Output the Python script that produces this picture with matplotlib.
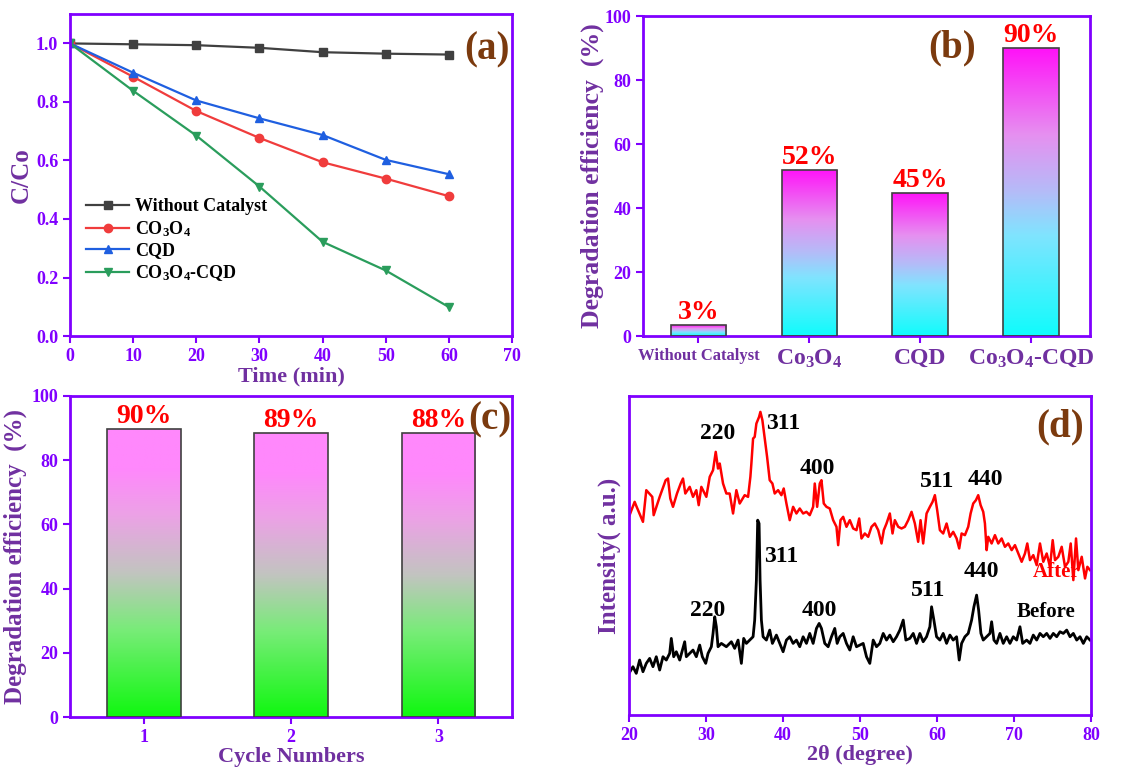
import numpy as np
import matplotlib
matplotlib.use('Agg')
import matplotlib.pyplot as plt
from matplotlib.colors import LinearSegmentedColormap

plt.rcParams['font.family'] = ['Liberation Serif', 'DejaVu Serif']
plt.rcParams['font.weight'] = 'bold'
plt.rcParams['axes.labelweight'] = 'bold'
plt.rcParams['mathtext.fontset'] = 'custom'
plt.rcParams['mathtext.rm'] = 'Liberation Serif:bold'
plt.rcParams['mathtext.it'] = 'Liberation Serif:bold'
plt.rcParams['mathtext.bf'] = 'Liberation Serif:bold'
plt.rcParams['mathtext.default'] = 'rm'

VIOLET = '#8000ff'
PURPLE = '#7030a0'
BROWN = '#7b3a0e'

# ---------------- data (a) ----------------
time_min = [0, 10, 20, 30, 40, 50, 60]
cc_without = [1.0, 0.997, 0.994, 0.985, 0.970, 0.965, 0.962]
cc_co3o4 = [1.0, 0.886, 0.769, 0.677, 0.594, 0.538, 0.478]
cc_cqd = [1.0, 0.900, 0.805, 0.744, 0.687, 0.602, 0.553]
cc_comp = [1.0, 0.838, 0.685, 0.511, 0.322, 0.224, 0.099]
series_labels = ['Without Catalyst', r'CO$_3$O$_4$', 'CQD', r'CO$_3$O$_4$-CQD']

# ---------------- data (b) ----------------
cat_names = ['Without Catalyst', r'Co$_3$O$_4$', 'CQD', r'Co$_3$O$_4$-CQD']
cat_eff = [3.4, 51.9, 44.8, 89.9]
cat_eff_labels = ['3%', '52%', '45%', '90%']

# ---------------- data (c) ----------------
cycles = [1, 2, 3]
cycle_eff = [89.7, 88.6, 88.4]
cycle_labels = ['90%', '89%', '88%']

# ---------------- data (d) ----------------
after_2theta = [
    20.00, 20.74, 21.00, 21.82, 22.25, 23.03, 23.21, 23.99, 24.77, 25.07,
    25.37, 25.72, 26.24, 26.72, 27.02, 27.32, 27.89, 28.32, 28.75, 29.06,
    29.40, 30.05, 30.49, 30.92, 31.27, 31.57, 31.79, 32.22, 32.65, 33.08,
    33.52, 33.95, 34.38, 35.03, 35.47, 35.77, 35.90, 36.12, 36.33, 36.55,
    36.90, 37.07, 37.33, 37.63, 37.94, 38.28, 38.63, 38.93, 39.37, 39.80,
    40.10, 40.45, 40.88, 41.32, 41.75, 42.18, 42.62, 43.05, 43.48, 43.92,
    44.13, 44.44, 44.78, 45.00, 45.30, 45.65, 46.08, 46.52, 46.95, 47.17,
    47.47, 47.82, 48.25, 48.68, 49.12, 49.55, 49.90, 50.20, 50.63, 51.07,
    51.50, 51.93, 52.37, 52.80, 53.10, 53.45, 53.88, 54.23, 54.53, 54.97,
    55.40, 55.83, 56.27, 56.70, 57.13, 57.56, 57.87, 58.21, 58.65, 59.08,
    59.43, 59.73, 60.03, 60.38, 60.81, 61.25, 61.68, 62.11, 62.55, 62.89,
    63.20, 63.63, 64.06, 64.37, 64.71, 65.06, 65.36, 65.67, 66.01, 66.23,
    66.45, 66.66, 67.10, 67.53, 67.96, 68.40, 68.83, 69.26, 69.70, 70.13,
    70.56, 71.00, 71.43, 71.73, 72.08, 72.51, 72.95, 73.38, 73.81, 74.25,
    74.68, 75.03, 75.33, 75.76, 76.20, 76.63, 77.06, 77.37, 77.71, 78.06,
    78.36, 78.80, 79.23, 79.53, 79.88]
after_int = [
    595, 640, 625, 580, 675, 655, 600, 655, 705, 710,
    650, 625, 665, 695, 710, 665, 685, 655, 675, 630,
    685, 655, 715, 735, 790, 740, 755, 695, 665, 665,
    605, 675, 635, 660, 655, 715, 755, 830, 835, 875,
    895, 910, 885, 830, 775, 705, 695, 665, 675, 660,
    680, 635, 585, 625, 605, 620, 605, 610, 600, 625,
    695, 625, 695, 705, 635, 625, 620, 585, 565, 510,
    585, 595, 565, 585, 560, 555, 590, 530, 545, 535,
    565, 575, 555, 515, 555, 575, 605, 545, 585, 565,
    560, 565, 585, 610, 575, 520, 585, 515, 605, 625,
    640, 660, 615, 555, 545, 575, 535, 550, 530, 500,
    545, 540, 565, 605, 635, 645, 660, 630, 610, 575,
    495, 535, 515, 540, 515, 530, 505, 515, 495, 510,
    485, 460, 485, 515, 465, 480, 450, 515, 460, 485,
    445, 525, 465, 475, 505, 445, 460, 515, 405, 530,
    435, 475, 410, 445, 435]

before_2theta = [
    20.00, 20.52, 20.95, 21.39, 21.82, 22.25, 22.69, 23.12, 23.55, 23.99,
    24.42, 24.85, 25.29, 25.50, 25.81, 26.15, 26.59, 27.24, 27.45, 27.89,
    28.32, 28.75, 29.19, 29.53, 29.97, 30.27, 30.70, 30.92, 31.14, 31.35,
    31.57, 32.00, 32.65, 33.30, 33.73, 34.17, 34.60, 34.90, 35.25, 35.68,
    36.12, 36.33, 36.55, 36.72, 36.90, 37.03, 37.20, 37.42, 37.85, 38.28,
    38.63, 39.15, 39.58, 40.02, 40.45, 40.88, 41.32, 41.75, 42.18, 42.62,
    43.05, 43.48, 43.92, 44.35, 44.70, 45.00, 45.43, 45.87, 46.30, 46.73,
    47.04, 47.38, 47.82, 48.25, 48.68, 49.12, 49.55, 49.98, 50.42, 50.85,
    51.28, 51.72, 52.15, 52.58, 53.02, 53.45, 53.88, 54.32, 54.75, 55.18,
    55.62, 55.96, 56.48, 56.92, 57.35, 57.78, 58.21, 58.65, 59.08, 59.30,
    59.60, 59.95, 60.38, 60.81, 61.25, 61.68, 62.11, 62.55, 62.89, 63.20,
    63.63, 64.06, 64.50, 64.80, 65.15, 65.41, 65.71, 66.01, 66.45, 66.88,
    67.10, 67.40, 67.75, 68.18, 68.61, 69.05, 69.48, 69.91, 70.35, 70.78,
    71.13, 71.65, 72.08, 72.51, 72.95, 73.38, 73.81, 74.25, 74.68, 75.11,
    75.55, 75.98, 76.41, 76.85, 77.28, 77.71, 78.15, 78.58, 79.01, 79.45,
    79.88]
before_int = [
    125, 145, 125, 165, 130, 155, 170, 145, 175, 135,
    175, 165, 185, 230, 175, 190, 165, 220, 175, 185,
    195, 175, 210, 175, 155, 185, 205, 245, 295, 265,
    205, 215, 205, 220, 200, 225, 155, 230, 215, 225,
    235, 285, 405, 585, 575, 405, 285, 235, 225, 255,
    215, 240, 215, 190, 225, 235, 215, 225, 205, 235,
    215, 245, 215, 260, 275, 260, 215, 205, 235, 260,
    215, 235, 245, 215, 195, 235, 205, 210, 215, 175,
    155, 225, 205, 215, 245, 225, 240, 220, 235, 255,
    285, 225, 230, 245, 215, 245, 220, 235, 265, 325,
    285, 235, 225, 245, 215, 240, 225, 235, 165, 215,
    235, 245, 285, 325, 360, 315, 245, 225, 235, 245,
    280, 225, 215, 245, 215, 235, 215, 235, 225, 265,
    215, 225, 215, 240, 225, 245, 235, 245, 230, 245,
    235, 250, 245, 255, 235, 245, 225, 235, 215, 235,
    225]

hkl_after = ['220', '311', '400', '511', '440']
hkl_before = ['220', '311', '400', '511', '440']


def style_axes(ax, labelsize=13):
    for s in ax.spines.values():
        s.set_color(VIOLET)
        s.set_linewidth(2)
    ax.tick_params(direction='out', colors=VIOLET, labelcolor=VIOLET,
                   width=1.5, length=5, labelsize=labelsize)


def gradient_bars(ax, bars, cmap):
    grad = np.linspace(0, 1, 256).reshape(-1, 1)
    for b in bars:
        x0, y0 = b.get_x(), b.get_y()
        w, h = b.get_width(), b.get_height()
        im = ax.imshow(grad, extent=[x0, x0 + w, y0, y0 + h], origin='lower',
                       aspect='auto', cmap=cmap, zorder=2, interpolation='bilinear')
        im.set_clip_path(b)


fig = plt.figure(figsize=(11.31, 7.70), dpi=100)

# ---------------- (a) ----------------
ax_a = fig.add_axes([0.0619, 0.5636, 0.3908, 0.418])
line_specs = [
    (cc_without, '#404040', 's'),
    (cc_co3o4, '#f03c3c', 'o'),
    (cc_cqd, '#1f5fe0', '^'),
    (cc_comp, '#2a9d5c', 'v'),
]
for (vals, col, mk), lab in zip(line_specs, series_labels):
    ax_a.plot(time_min, vals, color=col, marker=mk, markersize=6, lw=1.6, label=lab)
ax_a.set_xlim(0, 70)
ax_a.set_ylim(0, 1.1)
ax_a.set_xticks(range(0, 71, 10))
ax_a.set_yticks([0, 0.2, 0.4, 0.6, 0.8, 1.0])
ax_a.set_yticklabels(['0.0', '0.2', '0.4', '0.6', '0.8', '1.0'])
style_axes(ax_a)
ax_a.set_xlabel('Time (min)', fontsize=16, color=PURPLE, labelpad=1)
ax_a.set_ylabel('C/Co', fontsize=18, color=PURPLE, labelpad=2)
ax_a.legend(loc='upper left', bbox_to_anchor=(0.02, 0.45), frameon=False,
            fontsize=13, handlelength=2.4, labelspacing=0.2, borderaxespad=0,
            handletextpad=0.3)
ax_a.text(0.943, 0.89, '(a)', transform=ax_a.transAxes, ha='center', va='center',
          fontsize=28, color=BROWN)

# ---------------- (b) ----------------
ax_b = fig.add_axes([0.5685, 0.5636, 0.395, 0.4156])
xb = np.arange(len(cat_names))
bars_b = ax_b.bar(xb, cat_eff, width=0.5, facecolor='none', edgecolor='#404040',
                  linewidth=1.2, zorder=3)
cmap_b = LinearSegmentedColormap.from_list('cm_b', [
    (0.0, '#10fcfc'), (0.35, '#80e4ff'), (0.5, '#b4bcf8'),
    (0.7, '#e690f0'), (1.0, '#ff12f8')])
gradient_bars(ax_b, bars_b, cmap_b)
for b, lab in zip(bars_b, cat_eff_labels):
    ax_b.text(b.get_x() + b.get_width() / 2, b.get_height(), lab, ha='center',
              va='bottom', fontsize=20, color='#ff0000')
ax_b.set_xlim(-0.5, 3.53)
ax_b.set_ylim(0, 100)
ax_b.set_xticks(xb)
ax_b.set_xticklabels(cat_names)
style_axes(ax_b)
for i, t in enumerate(ax_b.get_xticklabels()):
    t.set_color(PURPLE)
    t.set_fontsize(12 if i == 0 else 17)
ax_b.set_ylabel('Degradation efficiency  (%)', fontsize=18.5, color=PURPLE, labelpad=0)
ax_b.text(0.693, 0.9, '(b)', transform=ax_b.transAxes, ha='center', va='center',
          fontsize=28, color=BROWN)

# ---------------- (c) ----------------
ax_c = fig.add_axes([0.0619, 0.0688, 0.3908, 0.417])
bars_c = ax_c.bar(cycles, cycle_eff, width=0.5, facecolor='none', edgecolor='#404040',
                  linewidth=1.2, zorder=3)
cmap_c = LinearSegmentedColormap.from_list('cm_c', [
    (0.0, '#10f810'), (0.3, '#78ec78'), (0.5, '#c2c4c0'),
    (0.7, '#eca2e6'), (0.86, '#ff88fc'), (1.0, '#ff88fc')])
gradient_bars(ax_c, bars_c, cmap_c)
for b, lab in zip(bars_c, cycle_labels):
    ax_c.text(b.get_x() + b.get_width() / 2, b.get_height(), lab, ha='center',
              va='bottom', fontsize=20, color='#ff0000')
ax_c.set_xlim(0.5, 3.5)
ax_c.set_ylim(0, 100)
ax_c.set_xticks(cycles)
style_axes(ax_c)
ax_c.set_xlabel('Cycle Numbers', fontsize=16, color=PURPLE, labelpad=1)
ax_c.set_ylabel('Degradation efficiency  (%)', fontsize=18, color=PURPLE, labelpad=3)
ax_c.text(0.95, 0.925, '(c)', transform=ax_c.transAxes, ha='center', va='center',
          fontsize=28, color=BROWN)

# ---------------- (d) ----------------
ax_d = fig.add_axes([0.5561, 0.0714, 0.4085, 0.414])
ax_d.text(75.5, 430, 'After', fontsize=15, color='#ff0000', ha='center', va='center', zorder=1)
ax_d.plot(after_2theta, after_int, color='#ff0000', lw=1.8, zorder=2)
ax_d.plot(before_2theta, before_int, color='#000000', lw=2.0, zorder=2)
ax_d.set_xlim(20, 80)
ax_d.set_ylim(0, 957)
ax_d.set_xticks(range(20, 81, 10))
ax_d.set_yticks([])
style_axes(ax_d)
ax_d.set_xlabel('2θ (degree)', fontsize=16, color=PURPLE, labelpad=1)
ax_d.set_ylabel('Intensity( a.u.)', fontsize=18, color=PURPLE, labelpad=6)

after_pos = [(31.57, 845, 'center'), (37.85, 875, 'left'), (44.44, 740, 'center'),
             (60.08, 700, 'center'), (66.23, 708, 'center')]
before_pos = [(30.27, 315, 'center'), (37.55, 475, 'left'), (44.7, 315, 'center'),
              (58.87, 375, 'center'), (65.8, 430, 'center')]
for lab, (x, y, ha) in zip(hkl_after, after_pos):
    ax_d.text(x, y, lab, fontsize=17, ha=ha, va='center', color='black', zorder=3)
for lab, (x, y, ha) in zip(hkl_before, before_pos):
    ax_d.text(x, y, lab, fontsize=17, ha=ha, va='center', color='black', zorder=3)
ax_d.text(74.1, 310, 'Before', fontsize=15, ha='center', va='center', color='black')
ax_d.text(0.933, 0.903, '(d)', transform=ax_d.transAxes, ha='center', va='center',
          fontsize=28, color=BROWN)

fig.savefig('out.png', dpi=100)
